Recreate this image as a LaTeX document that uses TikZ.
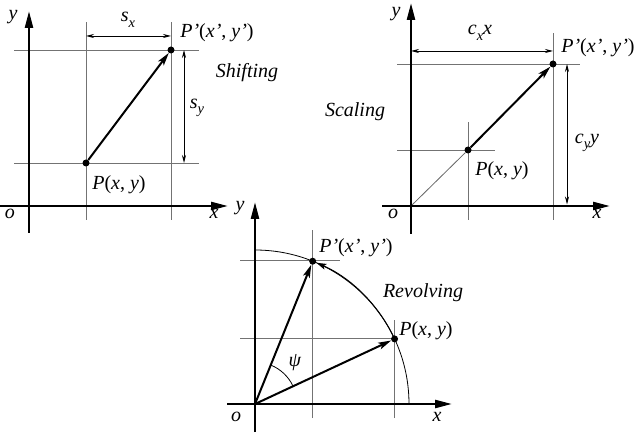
\documentclass[tikz,border=0pt]{standalone}
\usepackage{fontspec}
\setmainfont{Liberation Serif}
\usetikzlibrary{arrows.meta}
\newcommand{\ivar}[1]{\textit{#1}}
\newcommand{\isub}[1]{\raisebox{-0.28em}{\fontsize{14.5}{15}\selectfont\textit{#1}}}
\begin{document}
\begin{tikzpicture}[x=1pt,y=1pt,
  axisline/.style={line width=2.4pt,-{Triangle[length=17pt,width=8pt]}},
  gridline/.style={line width=0.9pt,black!55},
  vecline/.style={line width=2pt,-{Stealth[length=13pt,width=7pt,inset=3pt]}},
  dimline/.style={line width=0.8pt,{Stealth[length=8pt,width=4pt]}-{Stealth[length=8pt,width=4pt]}},
  thinline/.style={line width=0.8pt,black!60},
  dot/.style={circle,fill=black,inner sep=0pt,minimum size=7pt},
  lbl/.style={font=\fontsize{20}{23}\selectfont,inner sep=0pt},
]
\useasboundingbox (0,0) rectangle (637,434);

% ---------------- Panel 1: Shifting ----------------
\coordinate (g1a) at (86,214);  \coordinate (g1b) at (86,412);
\coordinate (g1c) at (171,214); \coordinate (g1d) at (171,412);
\coordinate (g1e) at (14,271);  \coordinate (g1f) at (199,271);
\coordinate (g1g) at (14,384);  \coordinate (g1h) at (199,384);
\draw[gridline] (g1a) -- (g1b);
\draw[gridline] (g1c) -- (g1d);
\draw[gridline] (g1e) -- (g1f);
\draw[gridline] (g1g) -- (g1h);
\coordinate (a1yb) at (29,201); \coordinate (a1yt) at (29,423);
\coordinate (a1xl) at (0,228);  \coordinate (a1xr) at (228,228);
\draw[axisline] (a1xl) -- (a1xr);
\draw[axisline] (a1yb) -- (a1yt);
\node[dot] (P1) at (86,271) {};
\node[dot] (Q1) at (171,384) {};
\draw[vecline] (P1) -- (Q1);
\coordinate (d1a) at (86,398);  \coordinate (d1b) at (171,398);
\draw[dimline] (d1a) -- (d1b);
\coordinate (d1c) at (184,384); \coordinate (d1d) at (184,271);
\draw[dimline] (d1c) -- (d1d);
\node[lbl] (o1) at (10,220) {\ivar{o}};
\node[lbl] (x1) at (214,220) {\ivar{x}};
\node[lbl] (y1) at (13,417) {\ivar{y}};
\node[lbl] (sx) at (128,414) {\ivar{s}\isub{x}};
\node[lbl] (sy) at (197,326) {\ivar{s}\isub{y}};
\node[lbl] (Q1l) at (217,401) {\ivar{P'}(\ivar{x'}, \ivar{y'})};
\node[lbl] (P1l) at (119,249) {\ivar{P}(\ivar{x}, \ivar{y})};
\node[lbl] (shl) at (247,361) {\ivar{Shifting}};

% ---------------- Panel 2: Scaling ----------------
\coordinate (g2a) at (468,214); \coordinate (g2b) at (468,312);
\coordinate (g2c) at (397,284); \coordinate (g2d) at (495,284);
\coordinate (g2e) at (553,214); \coordinate (g2f) at (553,401);
\coordinate (g2g) at (397,370); \coordinate (g2h) at (580,370);
\draw[gridline] (g2a) -- (g2b);
\draw[gridline] (g2c) -- (g2d);
\draw[gridline] (g2e) -- (g2f);
\draw[gridline] (g2g) -- (g2h);
\coordinate (O2) at (411,228);
\coordinate (a2yb) at (411,200); \coordinate (a2yt) at (411,431);
\coordinate (a2xl) at (382,228); \coordinate (a2xr) at (610,228);
\node[dot] (P2) at (468,284) {};
\node[dot] (Q2) at (553,370) {};
\draw[thinline] (O2) -- (P2);
\draw[axisline] (a2xl) -- (a2xr);
\draw[axisline] (a2yb) -- (a2yt);
\draw[vecline] (P2) -- (Q2);
\coordinate (d2a) at (411,383); \coordinate (d2b) at (553,383);
\draw[dimline] (d2a) -- (d2b);
\coordinate (d2c) at (567,370); \coordinate (d2d) at (567,229.5);
\draw[dimline] (d2c) -- (d2d);
\node[lbl] (o2) at (393,220) {\ivar{o}};
\node[lbl] (x2) at (597,220) {\ivar{x}};
\node[lbl] (y2) at (396,420) {\ivar{y}};
\node[lbl] (cxx) at (480,401) {\ivar{c}\isub{x}\ivar{x}};
\node[lbl] (cyy) at (587,291) {\ivar{c}\isub{y}\ivar{y}};
\node[lbl] (Q2l) at (598,386) {\ivar{P'}(\ivar{x'}, \ivar{y'})};
\node[lbl] (P2l) at (502,263) {\ivar{P}(\ivar{x}, \ivar{y})};
\node[lbl] (scl) at (355,322) {\ivar{Scaling}};

% ---------------- Panel 3: Revolving ----------------
\coordinate (O3) at (255,30);
\path (O3) ++(25:154) coordinate (P3c);
\path (O3) ++(68:154) coordinate (Q3c);
\coordinate (g3a) at (240,173.8); \coordinate (g3b) at (340,173.8);
\coordinate (g3c) at (312.7,16);  \coordinate (g3d) at (312.7,204);
\coordinate (g3e) at (240,95.1);  \coordinate (g3f) at (394.6,95.1);
\coordinate (g3g) at (394.6,16);  \coordinate (g3h) at (394.6,114);
\draw[gridline] (g3a) -- (g3b);
\draw[gridline] (g3c) -- (g3d);
\draw[gridline] (g3e) -- (g3f);
\draw[gridline] (g3g) -- (g3h);
\path (O3) ++(90:154) coordinate (arcTop);
\draw[line width=0.8pt] (arcTop) arc[start angle=90,end angle=0,radius=154];
\draw[line width=1pt,-{Stealth[length=10pt,width=6pt,inset=2pt]}] (P3c) arc[start angle=25,end angle=66.5,radius=154];
\path (O3) ++(25:42) coordinate (psiA);
\draw[line width=0.8pt] (psiA) arc[start angle=25,end angle=68,radius=42];
\coordinate (a3yb) at (255,2);   \coordinate (a3yt) at (255,232);
\coordinate (a3xl) at (227,30);  \coordinate (a3xr) at (452,30);
\draw[axisline] (a3xl) -- (a3xr);
\draw[axisline] (a3yb) -- (a3yt);
\node[dot] (P3) at (P3c) {};
\node[dot] (Q3) at (Q3c) {};
\draw[vecline] (O3) -- (P3);
\draw[vecline] (O3) -- (Q3);
\node[lbl] (o3) at (236,17) {\ivar{o}};
\node[lbl] (x3) at (437,17) {\ivar{x}};
\node[lbl] (y3) at (240,226) {\ivar{y}};
\node[lbl] (psi) at (295,71) {\ivar{ψ}};
\node[lbl] (Q3l) at (356,186) {\ivar{P'}(\ivar{x'}, \ivar{y'})};
\node[lbl] (P3l) at (426,103) {\ivar{P}(\ivar{x}, \ivar{y})};
\node[lbl] (rvl) at (423,141) {\ivar{Revolving}};
\end{tikzpicture}
\end{document}
